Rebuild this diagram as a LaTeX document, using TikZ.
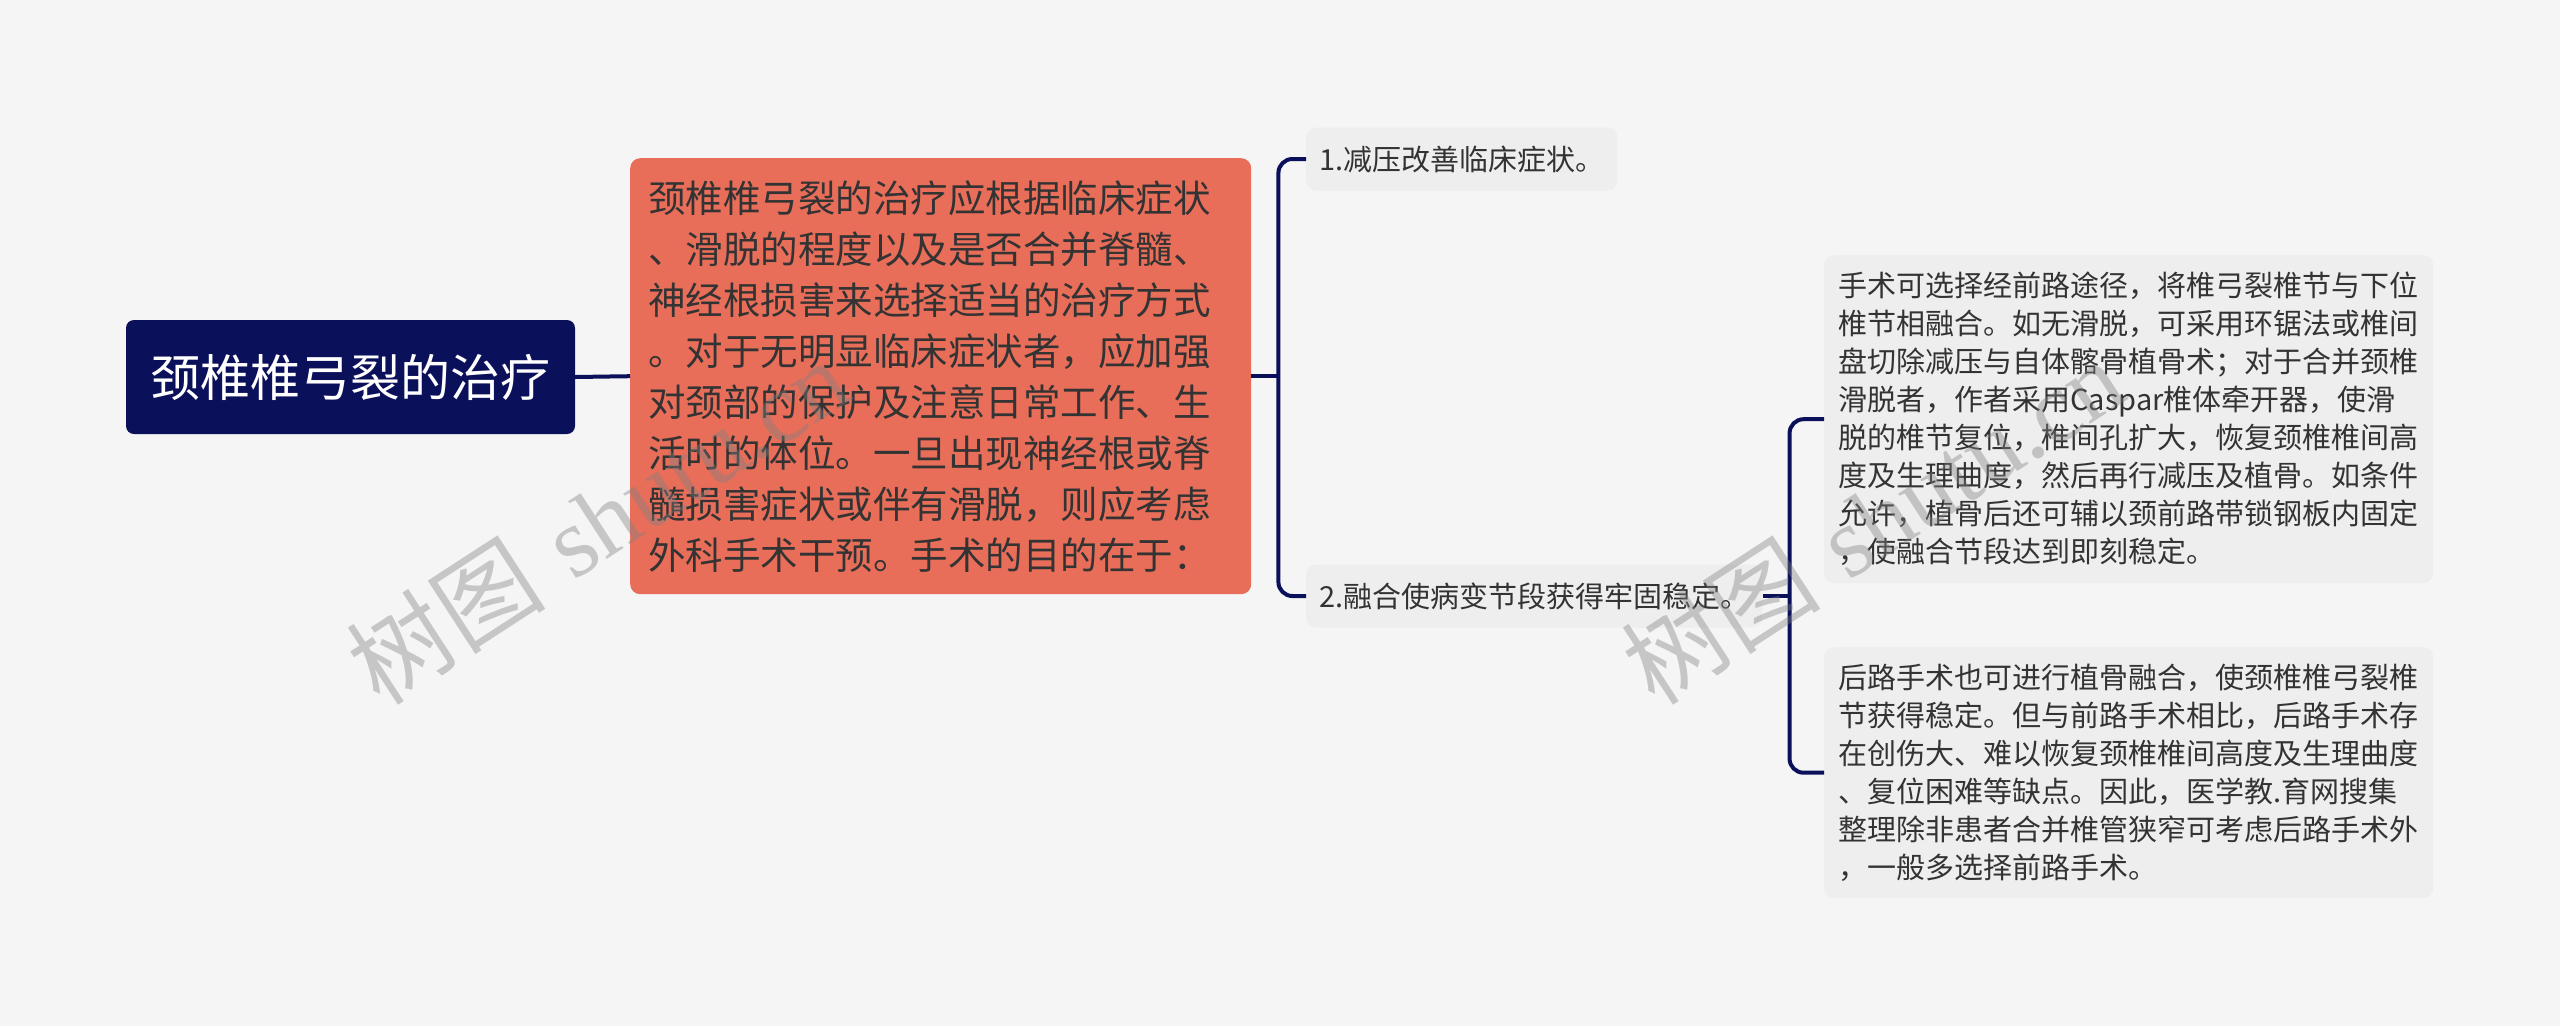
\documentclass[tikz,border=0pt]{standalone}
\usepackage{fontspec}
\newfontfamily\cjk{Noto Sans CJK SC}
\newfontfamily\wmlatin{Liberation Serif}
\usepackage{tikz}
\usetikzlibrary{
    positioning,
    calc
}
\usepackage{xcolor}
\definecolor{bggray}{HTML}{F5F5F5}
\definecolor{navy}{HTML}{0B105A}
\definecolor{coral}{HTML}{E86E5A}
\definecolor{leafgray}{HTML}{EEEEEE}
\definecolor{inkgray}{HTML}{333333}

\begin{document}
\begin{tikzpicture}[
    x=1pt, y=-1pt,
    topic/.style={
        rectangle, rounded corners=8pt, fill=navy, text=white,
        minimum width=449pt, minimum height=114pt, inner sep=0pt,
        font=\cjk\fontsize{50}{60}\selectfont
    },
    mainbox/.style={
        rectangle, rounded corners=10pt, fill=coral, text=inkgray,
        text width=585pt, inner xsep=18pt, inner ysep=0pt,
        minimum height=436pt, align=left,
        font=\cjk\fontsize{37.5}{51}\selectfont
    },
    leaf/.style={
        rectangle, rounded corners=10pt, fill=leafgray, text=inkgray,
        inner xsep=13pt, inner ysep=0pt, minimum height=63pt,
        font=\cjk\fontsize{29}{38}\selectfont
    },
    note/.style={
        leaf, text width=581pt, inner xsep=14pt, align=left
    },
    link/.style={draw=navy, line width=4pt},
    watermark/.style={
        rotate=33, text=gray, text opacity=0.4,
        font=\fontsize{100}{100}\selectfont
    }
]

% Background
\fill[bggray] (0,0) rectangle (2560,1026);

% Root and main text
\node[topic] (topic) at (350.5,377) {颈椎椎弓裂的治疗};
\node[mainbox, anchor=north west] (detail) at (630,158) {颈椎椎弓裂的治疗应根据临床症状\\、滑脱的程度以及是否合并脊髓、\\神经根损害来选择适当的治疗方式\\。对于无明显临床症状者，应加强\\对颈部的保护及注意日常工作、生\\活时的体位。一旦出现神经根或脊\\髓损害症状或伴有滑脱，则应考虑\\外科手术干预。手术的目的在于：};

% Aims
\node[leaf, anchor=west] (relief) at (1306,159) {1.减压改善临床症状。};
\node[leaf, anchor=west] (fusion) at (1306,596) {2.融合使病变节段获得牢固稳定。};

% Approaches
\node[note, anchor=north west, minimum height=328pt] (anterior) at (1824,255) {手术可选择经前路途径，将椎弓裂椎节与下位\\椎节相融合。如无滑脱，可采用环锯法或椎间\\盘切除减压与自体髂骨植骨术；对于合并颈椎\\滑脱者，作者采用Caspar椎体牵开器，使滑\\脱的椎节复位，椎间孔扩大，恢复颈椎椎间高\\度及生理曲度，然后再行减压及植骨。如条件\\允许，植骨后还可辅以颈前路带锁钢板内固定\\，使融合节段达到即刻稳定。};
\node[note, anchor=north west, minimum height=251pt] (posterior) at (1824,647) {后路手术也可进行植骨融合，使颈椎椎弓裂椎\\节获得稳定。但与前路手术相比，后路手术存\\在创伤大、难以恢复颈椎椎间高度及生理曲度\\、复位困难等缺点。因此，医学教.育网搜集\\整理除非患者合并椎管狭窄可考虑后路手术外\\，一般多选择前路手术。};

% Connectors
\coordinate (fork1) at ([xshift=27pt]detail.east);
\coordinate (fork2) at ([xshift=27pt]fusion.east);
\draw[link] (topic.east) -- (detail.west);
\draw[link] (detail.east) -- (fork1);
\draw[link, rounded corners=14pt] (relief.west) -| (fork1) |- (fusion.west);
\draw[link] (fusion.east) -- (fork2);
\draw[link, rounded corners=14pt] (anterior.west) -| (fork2) |- (posterior.west);

% Watermarks
\node[watermark] (wmleft) at (597,521) {{\cjk 树图} {\wmlatin shutu.cn}};
\node[watermark] (wmright) at (1872,521) {{\cjk 树图} {\wmlatin shutu.cn}};

\end{tikzpicture}
\end{document}
